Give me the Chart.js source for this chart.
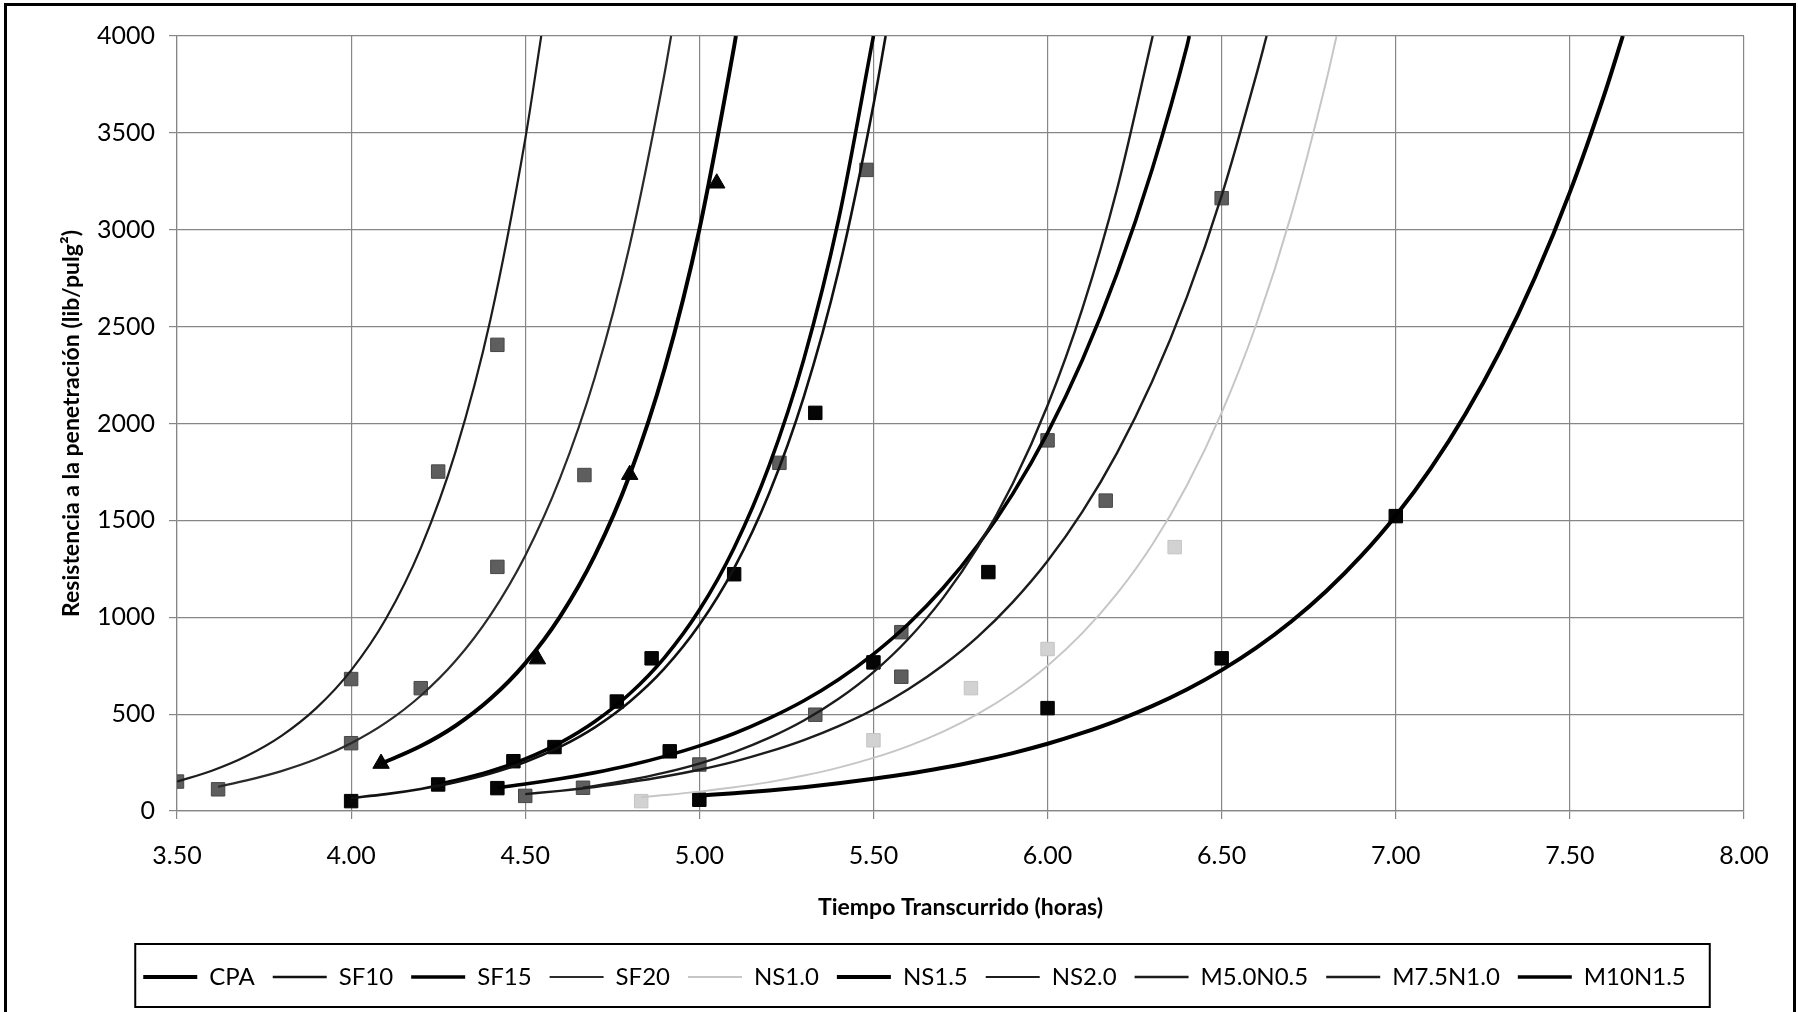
<!DOCTYPE html>
<html>
<head>
<meta charset="utf-8">
<title>Resistencia a la penetración</title>
<script src="https://cdn.jsdelivr.net/npm/chart.js@4.4.1/dist/chart.umd.min.js"></script>
<style>
  html, body { margin: 0; padding: 0; background: #fff; }
  #wrap { width: 1798px; height: 1012px; }
</style>
</head>
<body>
<div id="wrap"><canvas id="chart" width="1798" height="1012"></canvas></div>
<script>
// ===== Measured points (time in hours, resistance in lib/pulg2) =====
const cpaT = [5.00, 6.00, 6.50, 7.00];
const cpaR = [58, 531, 788, 1522];
const sf10T = [5.23, 5.48];
const sf10R = [1797, 3309];
const sf15T = [4.00, 4.25, 4.466, 4.584, 4.763, 4.863, 5.10, 5.333];
const sf15R = [51, 137, 257, 330, 565, 788, 1222, 2055];
const sf20T = [3.618, 4.00, 4.20, 4.42, 4.67];
const sf20R = [112, 350, 634, 1260, 1734];
const ns10T = [4.833, 5.50, 5.78, 6.00, 6.365];
const ns10R = [51, 365, 634, 836, 1362];
const ns15T = [4.086, 4.535, 4.80, 5.05];
const ns15R = [245, 784, 1736, 3240];
const ns20T = [3.50, 4.00, 4.25, 4.42];
const ns20R = [152, 681, 1752, 2406];
const m5T = [4.666, 5.00, 5.333, 5.58, 6.00];
const m5R = [120, 240, 497, 923, 1913];
const m75T = [4.50, 5.58, 6.167, 6.50];
const m75R = [78, 693, 1602, 3163];
const m10T = [4.42, 4.915, 5.50, 5.83];
const m10R = [118, 308, 767, 1233];

// ===== Trend curves, read along each fitted line up to the 4000 limit =====
const cpaFitT = [5.00, 5.10, 5.20, 5.30, 5.40, 5.50, 5.60, 5.70, 5.80, 5.90, 6.00, 6.10, 6.20, 6.30, 6.40, 6.50, 6.60, 6.70, 6.80, 6.90, 7.00, 7.10, 7.20, 7.30, 7.40, 7.50, 7.60, 7.652];
const cpaFitR = [79, 92, 106, 123, 143, 166, 192, 223, 258, 299, 347, 403, 467, 541, 627, 727, 843, 978, 1134, 1315, 1524, 1767, 2049, 2376, 2755, 3194, 3704, 4000];
const sf10FitT = [4.00, 4.10, 4.20, 4.30, 4.40, 4.50, 4.60, 4.70, 4.80, 4.90, 5.00, 5.10, 5.20, 5.30, 5.40, 5.50, 5.535];
const sf10FitR = [67, 87, 114, 149, 194, 253, 331, 432, 564, 736, 961, 1254, 1638, 2138, 2791, 3644, 4000];
const sf15FitT = [4.25, 4.30, 4.40, 4.50, 4.60, 4.70, 4.80, 4.90, 5.00, 5.10, 5.20, 5.30, 5.40, 5.50];
const sf15FitR = [137, 157, 205, 269, 352, 462, 605, 792, 1037, 1359, 1780, 2331, 3053, 4000];
const sf20FitT = [3.618, 3.70, 3.80, 3.90, 4.00, 4.10, 4.20, 4.30, 4.40, 4.50, 4.60, 4.70, 4.80, 4.90, 4.919];
const sf20FitR = [125, 158, 206, 268, 350, 456, 595, 775, 1011, 1318, 1718, 2239, 2919, 3805, 4000];
const ns10FitT = [4.833, 4.90, 5.00, 5.10, 5.20, 5.30, 5.40, 5.50, 5.60, 5.70, 5.80, 5.90, 6.00, 6.10, 6.20, 6.30, 6.40, 6.50, 6.60, 6.70, 6.80, 6.83];
const ns10FitR = [71, 82, 100, 122, 149, 183, 224, 274, 335, 410, 501, 613, 750, 918, 1123, 1373, 1680, 2056, 2515, 3078, 3765, 4000];
const ns15FitT = [4.086, 4.10, 4.20, 4.30, 4.40, 4.50, 4.60, 4.70, 4.80, 4.90, 5.00, 5.10, 5.105];
const ns15FitR = [245, 255, 335, 440, 579, 762, 1003, 1319, 1734, 2281, 3001, 3947, 4000];
const ns20FitT = [3.50, 3.60, 3.70, 3.80, 3.90, 4.00, 4.10, 4.20, 4.30, 4.40, 4.50, 4.546];
const ns20FitR = [152, 208, 284, 388, 531, 726, 992, 1357, 1855, 2536, 3467, 4000];
const m5FitT = [4.666, 4.70, 4.80, 4.90, 5.00, 5.10, 5.20, 5.30, 5.40, 5.50, 5.60, 5.70, 5.80, 5.90, 6.00, 6.10, 6.20, 6.302];
const m5FitR = [120, 129, 160, 198, 245, 304, 377, 467, 579, 717, 888, 1100, 1363, 1689, 2093, 2593, 3213, 4000];
const m75FitT = [4.50, 4.60, 4.70, 4.80, 4.90, 5.00, 5.10, 5.20, 5.30, 5.40, 5.50, 5.60, 5.70, 5.80, 5.90, 6.00, 6.10, 6.20, 6.30, 6.40, 6.50, 6.60, 6.629];
const m75FitR = [87, 104, 124, 149, 178, 213, 255, 306, 366, 438, 524, 628, 752, 900, 1078, 1290, 1545, 1850, 2215, 2652, 3176, 3803, 4000];
const m10FitT = [4.42, 4.50, 4.60, 4.70, 4.80, 4.90, 5.00, 5.10, 5.20, 5.30, 5.40, 5.50, 5.60, 5.70, 5.80, 5.90, 6.00, 6.10, 6.20, 6.30, 6.40, 6.407];
const m10FitR = [121, 139, 166, 198, 236, 282, 336, 400, 478, 569, 679, 810, 965, 1151, 1373, 1637, 1952, 2328, 2776, 3310, 3946, 4000];

// ===== Axis ticks =====
const xTicks = [3.5, 4.0, 4.5, 5.0, 5.5, 6.0, 6.5, 7.0, 7.5, 8.0];
const yTicks = [0, 500, 1000, 1500, 2000, 2500, 3000, 3500, 4000];

const BLACK = '#050505';
const DARK = '#5e5e5e';
const LIGHT = '#d2d2d2';

// legend order, with the look of each trend line and its markers
const series = [
  { name: 'CPA',      t: cpaT,  r: cpaR,  fitT: cpaFitT,  fitR: cpaFitR,  line: '#000',    width: 4,   mark: 'rect',     fill: BLACK },
  { name: 'SF10',     t: sf10T, r: sf10R, fitT: sf10FitT, fitR: sf10FitR, line: '#111',    width: 2.6, mark: 'rect',     fill: DARK },
  { name: 'SF15',     t: sf15T, r: sf15R, fitT: sf15FitT, fitR: sf15FitR, line: '#000',    width: 3.6, mark: 'rect',     fill: BLACK },
  { name: 'SF20',     t: sf20T, r: sf20R, fitT: sf20FitT, fitR: sf20FitR, line: '#2a2a2a', width: 2.2, mark: 'rect',     fill: DARK },
  { name: 'NS1.0',    t: ns10T, r: ns10R, fitT: ns10FitT, fitR: ns10FitR, line: '#c6c6c6', width: 2,   mark: 'rect',     fill: LIGHT },
  { name: 'NS1.5',    t: ns15T, r: ns15R, fitT: ns15FitT, fitR: ns15FitR, line: '#000',    width: 4,   mark: 'triangle', fill: BLACK },
  { name: 'NS2.0',    t: ns20T, r: ns20R, fitT: ns20FitT, fitR: ns20FitR, line: '#1c1c1c', width: 2.2, mark: 'rect',     fill: DARK },
  { name: 'M5.0N0.5', t: m5T,   r: m5R,   fitT: m5FitT,   fitR: m5FitR,   line: '#1c1c1c', width: 2.4, mark: 'rect',     fill: DARK },
  { name: 'M7.5N1.0', t: m75T,  r: m75R,  fitT: m75FitT,  fitR: m75FitR,  line: '#1c1c1c', width: 2.4, mark: 'rect',     fill: DARK },
  { name: 'M10N1.5',  t: m10T,  r: m10R,  fitT: m10FitT,  fitR: m10FitR,  line: '#000',    width: 3.6, mark: 'rect',     fill: BLACK }
];

const toPoints = (xs, ys) => xs.map((x, i) => ({ x: x, y: ys[i] }));

// trend lines first so the legend lists them in order
const fitSets = series.map(s => ({
  label: s.name,
  isFit: true,
  data: toPoints(s.fitT, s.fitR),
  showLine: true,
  borderColor: s.line,
  backgroundColor: s.line,
  borderWidth: s.width,
  pointBorderColor: s.line,
  pointBorderWidth: s.width,
  pointRadius: 0,
  pointHoverRadius: 0,
  cubicInterpolationMode: 'monotone',
  fill: false,
  order: 1
}));

const markSets = series.map(s => ({
  label: s.name + ' datos',
  isFit: false,
  data: toPoints(s.t, s.r),
  showLine: false,
  pointStyle: s.mark,
  pointRadius: 9.5,
  pointHoverRadius: 9.5,
  backgroundColor: s.fill,
  borderColor: s.fill === LIGHT ? '#c4c4c4' : (s.fill === DARK ? '#474747' : '#000'),
  borderWidth: 1,
  order: 2
}));

// ================= Outer frame and legend box =================
const framePlugin = {
  id: 'frame',
  afterLayout(chart) {
    // nudge the legend row a little to the right
    chart.legend.left += 14;
    chart.legend.right += 14;
  },
  afterDraw(chart) {
    const ctx = chart.ctx;
    ctx.save();
    ctx.strokeStyle = '#000';
    ctx.lineWidth = 3;
    ctx.strokeRect(5.5, 4.5, 1789, 1014);

    const hb = chart.legend.legendHitBoxes;
    if (hb && hb.length) {
      const first = hb[0];
      const last = hb[hb.length - 1];
      const cy = first.top + first.height / 2;
      ctx.lineWidth = 2;
      ctx.strokeRect(first.left - 8, cy - 33, last.left + last.width + 24 - (first.left - 8), 63);
    }
    ctx.restore();
  }
};

Chart.defaults.font.family = 'Lato, "Open Sans", sans-serif';
Chart.defaults.color = '#000';

const GRID = '#868686';

new Chart(document.getElementById('chart'), {
  type: 'scatter',
  data: { datasets: fitSets.concat(markSets) },
  options: {
    responsive: false,
    animation: false,
    devicePixelRatio: 1,
    layout: { padding: { left: 6, right: 3, top: 36, bottom: 13 } },
    plugins: {
      tooltip: { enabled: false },
      legend: {
        position: 'bottom',
        labels: {
          filter: (item, data) => data.datasets[item.datasetIndex].isFit,
          usePointStyle: true,
          pointStyle: 'line',
          pointStyleWidth: 54,
          padding: 18,
          color: '#000',
          font: { size: 24 }
        }
      }
    },
    scales: {
      x: {
        type: 'linear',
        min: xTicks[0],
        max: xTicks[xTicks.length - 1],
        afterBuildTicks: scale => { scale.ticks = xTicks.map(v => ({ value: v })); },
        ticks: {
          callback: v => Number(v).toFixed(2),
          font: { size: 25 },
          color: '#000',
          padding: 22,
          maxRotation: 0
        },
        grid: { color: GRID, lineWidth: 1.2, tickLength: 8, tickColor: GRID },
        border: { color: GRID, width: 1.2 },
        title: {
          display: true,
          text: 'Tiempo Transcurrido (horas)',
          font: { size: 23, weight: 'bold' },
          color: '#000',
          padding: { top: 0, bottom: 26 }
        },
        afterFit: scale => { scale.height = 136; }
      },
      y: {
        type: 'linear',
        min: yTicks[0],
        max: yTicks[yTicks.length - 1],
        afterBuildTicks: scale => { scale.ticks = yTicks.map(v => ({ value: v })); },
        ticks: { callback: v => String(v), font: { size: 25 }, color: '#000', padding: 14 },
        grid: { color: GRID, lineWidth: 1.2, tickLength: 8, tickColor: GRID },
        border: { color: GRID, width: 1.2 },
        title: {
          display: true,
          text: 'Resistencia a la penetración (lib/pulg²)',
          font: { size: 23, weight: 'bold' },
          color: '#000',
          padding: { top: 52, bottom: 0 }
        },
        afterFit: scale => { scale.width = 171; }
      },
      // empty strip on the right of the plot
      yRight: {
        type: 'linear',
        position: 'right',
        display: true,
        grid: { display: false },
        border: { display: false },
        ticks: { display: false },
        afterFit: scale => { scale.width = 51; }
      }
    }
  },
  plugins: [framePlugin]
});
</script>
</body>
</html>
